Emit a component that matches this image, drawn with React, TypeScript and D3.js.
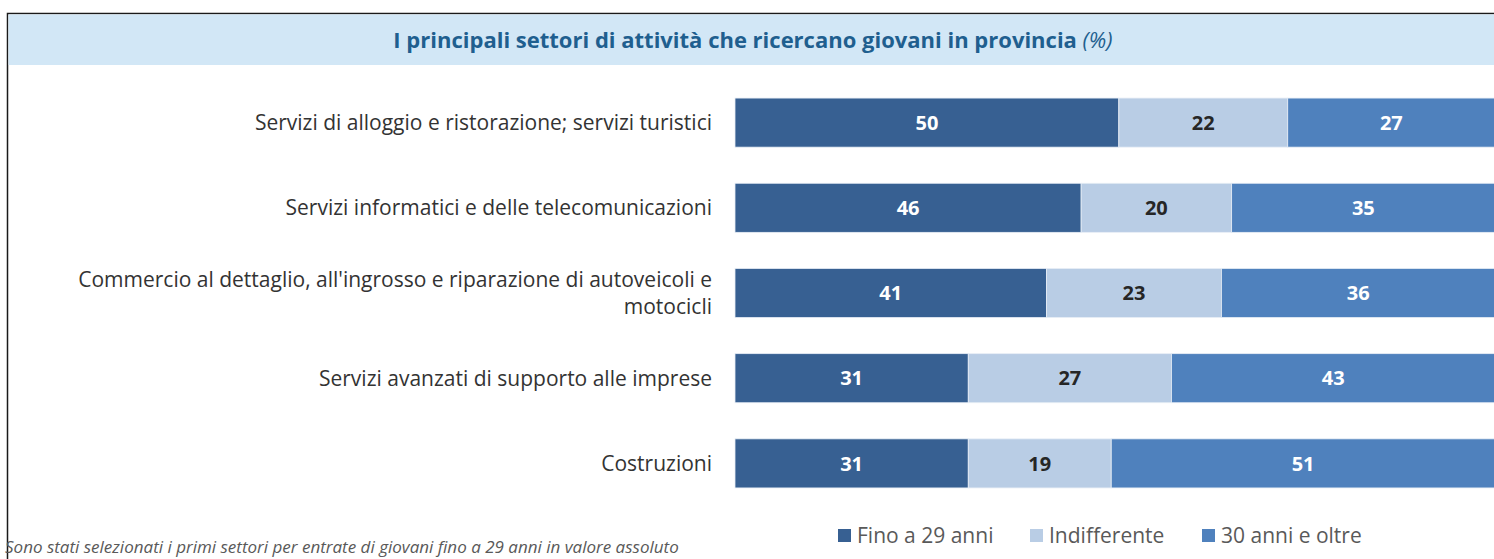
import React, { useEffect, useRef } from 'react';
import * as d3 from 'd3';

const categories = [
    'Servizi di alloggio e ristorazione; servizi turistici',
    'Servizi informatici e delle telecomunicazioni',
    "Commercio al dettaglio, all'ingrosso e riparazione di autoveicoli e|motocicli",
    'Servizi avanzati di supporto alle imprese',
    'Costruzioni',
];
const fino29 = [50, 46, 41, 31, 31];
const indifferente = [22, 20, 23, 27, 19];
const oltre30 = [27, 35, 36, 43, 51];

const seriesNames = ['Fino a 29 anni', 'Indifferente', '30 anni e oltre'];
const seriesColors = ['#376092', '#b9cde5', '#4f81bd'];
const labelColors = ['#ffffff', '#262626', '#ffffff'];

const FONT = "'Open Sans', sans-serif";

const App: React.FC = () => {
    const svgRef = useRef<SVGSVGElement>(null);

    useEffect(() => {
        if (!svgRef.current) return;
        const svg = d3.select(svgRef.current);
        svg.selectAll('*').remove();

        const W = 1494;
        const H = 559;

        // frame + title banner
        svg.append('rect')
            .attr('x', 7.5).attr('y', 13.5)
            .attr('width', W + 20).attr('height', H + 20)
            .attr('fill', '#fff').attr('stroke', '#1a1a1a').attr('stroke-width', 1.5);
        svg.append('rect')
            .attr('x', 8.5).attr('y', 14.5)
            .attr('width', W).attr('height', 50.5)
            .attr('fill', '#d2e7f6');

        const title = svg.append('text')
            .attr('x', 753).attr('y', 47.5)
            .attr('text-anchor', 'middle')
            .attr('fill', '#1f5f8f')
            .style('font-family', FONT)
            .style('font-size', '22px');
        title.append('tspan').style('font-weight', 'bold')
            .text('I principali settori di attività che ricercano giovani in provincia ');
        title.append('tspan').style('font-style', 'italic').text('(%)');

        const rows = categories.map((c, i) => ({
            cat: c,
            vals: [fino29[i], indifferente[i], oltre30[i]],
        }));

        const x = d3.scaleLinear().domain([0, 100]).range([735, 1495]);
        const y = d3.scaleBand<string>()
            .domain(categories)
            .range([80, 506])
            .paddingInner(0.424)
            .paddingOuter(0.212);

        rows.forEach(row => {
            const total = d3.sum(row.vals);
            let acc = 0;
            const y0 = y(row.cat)!;
            const bw = y.bandwidth();
            row.vals.forEach((v, j) => {
                const start = (acc / total) * 100;
                const end = ((acc + v) / total) * 100;
                acc += v;
                svg.append('rect')
                    .attr('x', x(start)).attr('y', y0)
                    .attr('width', x(end) - x(start)).attr('height', bw)
                    .attr('fill', seriesColors[j])
                    .attr('stroke', '#e8eef6').attr('stroke-width', 0.8);
                svg.append('text')
                    .attr('x', (x(start) + x(end)) / 2)
                    .attr('y', y0 + bw / 2)
                    .attr('dy', '0.36em')
                    .attr('text-anchor', 'middle')
                    .attr('fill', labelColors[j])
                    .style('font-family', FONT)
                    .style('font-size', '20px')
                    .style('font-weight', 'bold')
                    .text(v);
            });

            // category label, wrapped where marked with |
            const lines = row.cat.split('|');
            const cy = y0 + bw / 2;
            const lh = 27;
            const t = svg.append('text')
                .attr('text-anchor', 'end')
                .attr('fill', '#333333')
                .style('font-family', FONT)
                .style('font-size', '21px');
            lines.forEach((ln, k) => {
                t.append('tspan')
                    .attr('x', 712)
                    .attr('y', cy + (k - (lines.length - 1) / 2) * lh)
                    .attr('dy', '0.36em')
                    .text(ln);
            });
        });

        // legend
        const legendX = [838, 1030, 1202];
        const legend = svg.append('g');
        seriesNames.forEach((name, i) => {
            legend.append('rect')
                .attr('x', legendX[i]).attr('y', 529)
                .attr('width', 13).attr('height', 13)
                .attr('fill', seriesColors[i]);
            legend.append('text')
                .attr('x', legendX[i] + 19).attr('y', 535.5)
                .attr('dy', '0.36em')
                .attr('fill', '#595959')
                .style('font-family', FONT)
                .style('font-size', '21px')
                .text(name);
        });

        svg.append('text')
            .attr('x', 5).attr('y', 553)
            .attr('fill', '#595959')
            .style('font-family', FONT)
            .style('font-size', '17px')
            .style('font-style', 'italic')
            .text('Sono stati selezionati i primi settori per entrate di giovani fino a 29 anni in valore assoluto');
    }, []);

    return (
        <div style={{ position: 'absolute', left: 0, top: 0 }}>
            <svg ref={svgRef} width={1494} height={559} style={{ display: 'block' }} />
        </div>
    );
};

export default App;
